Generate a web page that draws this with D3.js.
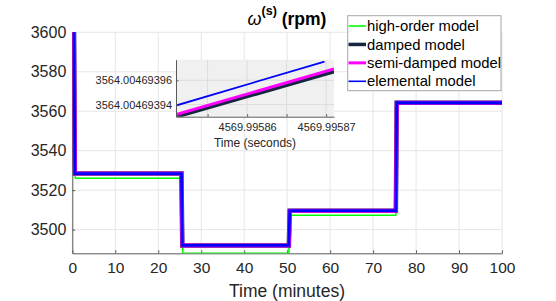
<!DOCTYPE html>
<html><head><meta charset="utf-8">
<script src="https://cdn.jsdelivr.net/npm/d3@7"></script>
<style>
html,body{margin:0;padding:0;background:#fff;}
svg{display:block;font-family:"Liberation Sans",Arial,Helvetica,sans-serif;}
</style></head>
<body><svg id="c" width="556" height="301"></svg>
<script>
// ---- data ----
const seriesNames = ["high-order model","damped model","semi-damped model","elemental model"];
const seriesColors = ["#00ff00","#162640","#ff00ff","#0000ff"];
const timeMin = [0.4, 0.6, 25.4, 25.6, 50.4, 50.6, 75.3, 75.5, 100];
const timeMinGreen = [0.4, 0.7, 25.5, 25.7, 50.4, 50.6, 75.3, 75.5, 100];
const highOrder = [3600, 3526, 3526, 3488, 3488, 3507.3, 3507.3, 3564, 3564];
const damped = [3600, 3528.4, 3528.4, 3492, 3492, 3509.6, 3509.6, 3564.3, 3564.3];
const semiDamped = [3600, 3528.4, 3528.4, 3492, 3492, 3509.6, 3509.6, 3564.3, 3564.3];
const elemental = [3600, 3528.4, 3528.4, 3492, 3492, 3509.6, 3509.6, 3564.3, 3564.3];
const xTicks = [0,10,20,30,40,50,60,70,80,90,100];
const yTicks = [3500,3520,3540,3560,3580,3600];

// inset (zoom) data
const insetTimeSec = [4569.995851, 4569.995871];
const insetElementalTime = [4569.995851, 4569.9958698];
const insetDamped = [3564.0046939298, 3564.0046939671];
const insetSemiDamped = [3564.0046939318, 3564.0046939693];
const insetElemental = [3564.0046939392, 3564.0046939755];
const insetXTicks = [4569.995855, 4569.99586, 4569.995865, 4569.99587];
const insetXTickLabels = ["", "4569.99586", "", "4569.99587"];
const insetYTicks = [3564.00469394, 3564.00469396];
const insetYTickLabels = ["3564.00469394", "3564.00469396"];

// ---- layout ----
const svg = d3.select("#c");
const L=72.3, R=502, T=32.3, B=253.3;
const x = d3.scaleLinear().domain([0,100]).range([L,R]);
const y = d3.scaleLinear().domain([3488,3600]).range([B,T]);
const txt="#262626", axc="#5a5a5a", gridc="#e6e6e6";

// grid
svg.append("g").selectAll("line").data(xTicks).join("line")
  .attr("x1",d=>x(d)).attr("x2",d=>x(d)).attr("y1",T).attr("y2",B)
  .attr("stroke",gridc).attr("stroke-width",1);
svg.append("g").selectAll("line").data(yTicks).join("line")
  .attr("x1",L).attr("x2",R).attr("y1",d=>y(d)).attr("y2",d=>y(d))
  .attr("stroke",gridc).attr("stroke-width",1);

// axes
const xAxis = d3.axisBottom(x).tickValues(xTicks).tickSizeInner(-3).tickSizeOuter(0).tickPadding(9);
const gx = svg.append("g").attr("transform",`translate(0,${B})`).call(xAxis);
gx.select(".domain").attr("stroke",axc);
gx.selectAll(".tick line").attr("stroke",axc);
gx.selectAll("text").attr("fill",txt).attr("font-size","15.5px").attr("font-family","Liberation Sans, Arial, sans-serif");

const yAxis = d3.axisLeft(y).tickValues(yTicks).tickSizeInner(-3).tickSizeOuter(0).tickPadding(6).tickFormat(d3.format("d"));
const gy = svg.append("g").attr("transform",`translate(${L},0)`).call(yAxis);
gy.select(".domain").attr("stroke",axc);
gy.selectAll(".tick line").attr("stroke",axc);
gy.selectAll("text").attr("fill",txt).attr("font-size","16px").attr("font-family","Liberation Sans, Arial, sans-serif");

// clip
svg.append("clipPath").attr("id","mainclip").append("rect").attr("x",L).attr("y",T-4).attr("width",R-L+3).attr("height",B-T+4);

// main lines
const mk = (ts, vs) => ts.map((t,i)=>[t,vs[i]]);
const line = d3.line().x(d=>x(d[0])).y(d=>y(d[1]));
const gl = svg.append("g").attr("clip-path","url(#mainclip)");
const mainSeries = [
  {d:mk(timeMinGreen,highOrder), c:seriesColors[0], w:1.6},
  {d:mk(timeMin,damped), c:seriesColors[1], w:4.5},
  {d:mk(timeMin,semiDamped), c:seriesColors[2], w:4},
  {d:mk(timeMin,elemental), c:seriesColors[3], w:2.8}
];
mainSeries.forEach(s=>{
  gl.append("path").attr("d",line(s.d)).attr("fill","none")
    .attr("stroke",s.c).attr("stroke-width",s.w).attr("stroke-linejoin","miter");
});

// title
const title = svg.append("text").attr("x",287).attr("y",25).attr("text-anchor","middle").attr("fill","#000");
title.append("tspan").attr("font-style","italic").attr("font-size","18px").text("ω");
title.append("tspan").attr("font-weight","bold").attr("font-size","12.5px").attr("dy","-10").text("(s)");
title.append("tspan").attr("font-weight","bold").attr("font-size","17.5px").attr("dy","10").text(" (rpm)");

// x label
svg.append("text").attr("x",287).attr("y",296.7).attr("text-anchor","middle")
  .attr("fill",txt).attr("font-size","17.5px").text("Time (minutes)");

// ---- inset ----
const iL=176, iR=334, iT=59.7, iB=116.7;
const ix = d3.scaleLinear().domain(insetTimeSec).range([iL,iR]);
const iy = d3.scaleLinear().domain([3564.00469393, 3564.004693977]).range([iB,iT]);
const gi = svg.append("g");
gi.append("rect").attr("x",iL).attr("y",iT).attr("width",iR-iL).attr("height",iB-iT).attr("fill","#f0f0f0");
gi.append("g").selectAll("line").data(insetXTicks).join("line")
  .attr("x1",d=>ix(d)).attr("x2",d=>ix(d)).attr("y1",iT).attr("y2",iB)
  .attr("stroke","#dcdcdc");
gi.append("g").selectAll("line").data(insetYTicks).join("line")
  .attr("x1",iL).attr("x2",iR).attr("y1",d=>iy(d)).attr("y2",d=>iy(d))
  .attr("stroke","#dcdcdc");
gi.append("clipPath").attr("id","iclip").append("rect").attr("x",iL).attr("y",iT).attr("width",iR-iL).attr("height",iB-iT);
const iline = d3.line().x(d=>ix(d[0])).y(d=>iy(d[1]));
const gil = gi.append("g").attr("clip-path","url(#iclip)");
[
  {d:mk(insetTimeSec,insetDamped), c:seriesColors[1], w:3.5},
  {d:mk(insetTimeSec,insetSemiDamped), c:seriesColors[2], w:3},
  {d:mk(insetElementalTime,insetElemental), c:seriesColors[3], w:1.8}
].forEach(s=>{
  gil.append("path").attr("d",iline(s.d)).attr("fill","none").attr("stroke",s.c).attr("stroke-width",s.w);
});
const ixAxis = d3.axisBottom(ix).tickValues(insetXTicks).tickSizeInner(-2.5).tickSizeOuter(0).tickPadding(7)
  .tickFormat((d,i)=>insetXTickLabels[i]);
const gix = gi.append("g").attr("transform",`translate(0,${iB})`).call(ixAxis);
gix.select(".domain").attr("stroke",axc);
gix.selectAll(".tick line").attr("stroke",axc);
gix.selectAll("text").attr("fill",txt).attr("font-size","11px").attr("font-family","Liberation Sans, Arial, sans-serif");
const iyAxis = d3.axisLeft(iy).tickValues(insetYTicks).tickSizeInner(-2.5).tickSizeOuter(0).tickPadding(4)
  .tickFormat((d,i)=>insetYTickLabels[i]);
const giy = gi.append("g").attr("transform",`translate(${iL},0)`).call(iyAxis);
giy.select(".domain").attr("stroke",axc);
giy.selectAll(".tick line").attr("stroke",axc);
giy.selectAll("text").attr("fill",txt).attr("font-size","11px").attr("font-family","Liberation Sans, Arial, sans-serif");
gi.append("text").attr("x",(iL+iR)/2).attr("y",146.5).attr("text-anchor","middle")
  .attr("fill",txt).attr("font-size","12px").text("Time (seconds)");

// ---- legend ----
const lg = svg.append("g");
lg.append("rect").attr("x",347.7).attr("y",15.7).attr("width",153.3).attr("height",75)
  .attr("fill","#fff").attr("stroke","#a6a6a6").attr("stroke-width",1);
const legW = [1.6, 3.5, 3, 1.6];
const legY = d3.scalePoint().domain(seriesNames).range([26, 81.3]);
seriesNames.forEach((n,i)=>{
  const yy = legY(n);
  lg.append("line").attr("x1",348.5).attr("x2",366).attr("y1",yy).attr("y2",yy)
    .attr("stroke",seriesColors[i]).attr("stroke-width",legW[i]);
  lg.append("text").attr("x",367).attr("y",yy).attr("dy","0.35em")
    .attr("fill","#000").attr("font-size","14.8px").text(n);
});
</script></body></html>
